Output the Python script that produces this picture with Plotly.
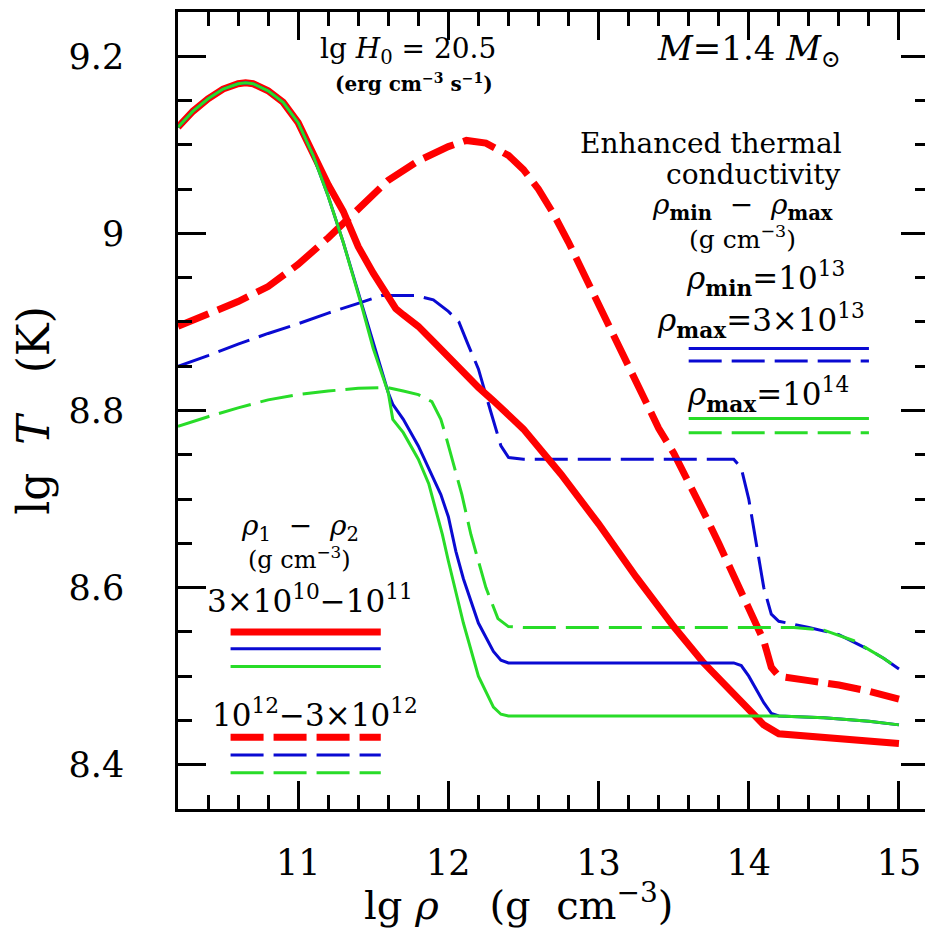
import plotly.graph_objects as go

# ---------------- data ----------------
red_solid_x = [10.2, 10.3, 10.4, 10.5, 10.6, 10.65, 10.7, 10.8, 10.9, 11.0, 11.1, 11.2, 11.3, 11.4, 11.5, 11.6,
               11.65, 11.7, 11.8, 11.9, 12.0, 12.1, 12.2, 12.3, 12.4, 12.5, 12.75, 13.0, 13.25, 13.5, 13.7, 13.9,
               14.1, 14.2, 14.4, 14.6, 14.8, 15.0]
red_solid_y = [9.12, 9.138, 9.152, 9.163, 9.169, 9.17, 9.169, 9.161, 9.148, 9.125, 9.09, 9.055, 9.025, 8.985, 8.955, 8.93,
               8.915, 8.908, 8.895, 8.878, 8.86, 8.842, 8.826, 8.811, 8.796, 8.779, 8.728, 8.672, 8.612, 8.556, 8.515, 8.48,
               8.445, 8.435, 8.432, 8.43, 8.427, 8.424]

blue_solid_x = [10.2, 10.3, 10.4, 10.5, 10.6, 10.65, 10.7, 10.8, 10.9, 11.0, 11.1, 11.2, 11.3, 11.42, 11.5, 11.54,
                11.6, 11.63, 11.7, 11.8, 11.87, 11.95, 12.0, 12.05, 12.1, 12.2, 12.3, 12.35, 12.4, 13.0, 13.5, 13.9,
                13.95, 14.0, 14.1, 14.15, 14.2, 14.5, 14.8, 15.0]
blue_solid_y = [9.12, 9.138, 9.152, 9.163, 9.169, 9.17, 9.169, 9.161, 9.148, 9.125, 9.088, 9.042, 8.99, 8.923, 8.878, 8.855,
                8.82, 8.807, 8.79, 8.76, 8.735, 8.705, 8.68, 8.641, 8.61, 8.56, 8.528, 8.518, 8.515, 8.515, 8.515, 8.515,
                8.512, 8.5, 8.47, 8.458, 8.455, 8.453, 8.449, 8.445]

green_solid_x = [10.2, 10.3, 10.4, 10.5, 10.6, 10.65, 10.7, 10.8, 10.9, 11.0, 11.1, 11.2, 11.3, 11.42, 11.5, 11.6,
                 11.63, 11.7, 11.8, 11.87, 11.96, 12.0, 12.1, 12.2, 12.3, 12.35, 12.4, 13.0, 13.5, 14.0, 14.2, 14.5,
                 14.8, 15.0]
green_solid_y = [9.12, 9.138, 9.152, 9.163, 9.169, 9.17, 9.169, 9.161, 9.148, 9.125, 9.088, 9.042, 8.99, 8.92, 8.87, 8.82,
                 8.79, 8.775, 8.745, 8.717, 8.66, 8.63, 8.56, 8.5, 8.465, 8.457, 8.455, 8.455, 8.455, 8.455, 8.455, 8.453,
                 8.449, 8.445]

red_dash_x = [10.2, 10.4, 10.6, 10.8, 11.0, 11.2, 11.4, 11.6, 11.8, 12.0, 12.12, 12.25, 12.4, 12.5, 12.6, 12.7, 12.8,
              12.9, 13.0, 13.1, 13.2, 13.3, 13.4, 13.5, 13.6, 13.7, 13.8, 13.9, 14.0, 14.1, 14.15, 14.2, 14.4,
              14.6, 14.8, 15.0]
red_dash_y = [8.895, 8.908, 8.923, 8.94, 8.965, 8.995, 9.028, 9.06, 9.082, 9.098, 9.105, 9.102, 9.088, 9.072, 9.05, 9.022,
              8.99, 8.955, 8.92, 8.885, 8.85, 8.815, 8.78, 8.752, 8.72, 8.685, 8.65, 8.613, 8.577, 8.54, 8.51, 8.5,
              8.495, 8.49, 8.483, 8.474]

blue_dash_x = [10.2, 10.4, 10.6, 10.8, 11.0, 11.2, 11.4, 11.56, 11.78, 11.9, 12.0, 12.07, 12.13, 12.2, 12.28, 12.35,
               12.4, 12.5, 13.9, 13.95, 14.0, 14.05, 14.1, 14.15, 14.2, 14.4, 14.6, 14.8, 14.9, 15.0]
blue_dash_y = [8.85, 8.862, 8.875, 8.887, 8.898, 8.91, 8.921, 8.93, 8.93, 8.925, 8.912, 8.9, 8.875, 8.847, 8.8, 8.76,
               8.747, 8.745, 8.745, 8.735, 8.70, 8.65, 8.6, 8.57, 8.562, 8.555, 8.547, 8.53, 8.52, 8.508]

green_dash_x = [10.2, 10.4, 10.6, 10.8, 11.0, 11.2, 11.4, 11.59, 11.7, 11.8, 11.89, 11.95, 11.98, 12.05, 12.09, 12.15,
                12.25, 12.33, 12.4, 12.5, 14.3, 14.5, 14.7, 14.8, 14.9, 15.0]
green_dash_y = [8.782, 8.793, 8.803, 8.812, 8.818, 8.822, 8.825, 8.826, 8.822, 8.818, 8.81, 8.79, 8.773, 8.73, 8.705, 8.66,
                8.6, 8.565, 8.556, 8.555, 8.555, 8.552, 8.54, 8.53, 8.52, 8.508]

x_tickvals = [11, 12, 13, 14, 15]
x_ticktext = ["11", "12", "13", "14", "15"]
y_tickvals = [8.4, 8.6, 8.8, 9.0, 9.2]
y_ticktext = ["8.4", "8.6", "8.8", "9", "9.2"]

# legend sample line levels (data coordinates)
left_key_x = [10.55, 11.55]
left_key_y = [8.55, 8.531, 8.511, 8.431, 8.411, 8.391]
right_key_x = [13.6, 14.8]
right_key_y = [8.87, 8.856, 8.791, 8.775]

RED = "rgb(255,0,0)"
BLUE = "rgb(10,10,210)"
GREEN = "rgb(40,220,40)"
FONT = "DejaVu Serif"
DASH = "33px,10px"

fig = go.Figure()

def add(x, y, color, width, dash=None):
    fig.add_trace(go.Scatter(x=x, y=y, mode="lines",
                             line=dict(color=color, width=width, dash=dash or "solid"),
                             showlegend=False, hoverinfo="skip"))

add(red_dash_x, red_dash_y, RED, 7, DASH)
add(blue_dash_x, blue_dash_y, BLUE, 3, DASH)
add(green_dash_x, green_dash_y, GREEN, 3, DASH)
add(red_solid_x, red_solid_y, RED, 7)
add(blue_solid_x, blue_solid_y, BLUE, 3)
add(green_solid_x, green_solid_y, GREEN, 3)

# legend sample lines
shapes = []
left_styles = [(RED, 7, "solid"), (BLUE, 3, "solid"), (GREEN, 3, "solid"),
               (RED, 7, DASH), (BLUE, 3, DASH), (GREEN, 3, DASH)]
for yv, (c, w, d) in zip(left_key_y, left_styles):
    shapes.append(dict(type="line", xref="x", yref="y", x0=left_key_x[0], x1=left_key_x[1],
                       y0=yv, y1=yv, line=dict(color=c, width=w, dash=d)))
right_styles = [(BLUE, 3, "solid"), (BLUE, 3, DASH), (GREEN, 3, "solid"), (GREEN, 3, DASH)]
for yv, (c, w, d) in zip(right_key_y, right_styles):
    shapes.append(dict(type="line", xref="x", yref="y", x0=right_key_x[0], x1=right_key_x[1],
                       y0=yv, y1=yv, line=dict(color=c, width=w, dash=d)))

def ann(x, y, text, size=26, xanchor="center"):
    return dict(x=x, y=y, xref="x", yref="y", text=text, showarrow=False,
                font=dict(family=FONT, size=size, color="black"), xanchor=xanchor, yanchor="middle")

annotations = [
    ann(11.73, 9.206, "lg <i>H</i><sub>0</sub> = 20.5", 28),
    ann(11.77, 9.17, "<b>(erg cm<sup>−3</sup> s<sup>−1</sup>)</b>", 20),
    ann(14.0, 9.206, "<i>M</i>=1.4 <i>M</i><sub>⊙</sub>", 34),
    ann(13.75, 9.101, "Enhanced thermal", 28),
    ann(14.03, 9.066, "conductivity", 28),
    ann(13.96, 9.03, "<i>ρ</i><sub><b>min</b></sub>  −  <i>ρ</i><sub><b>max</b></sub>", 28),
    ann(13.96, 8.995, "(g cm<sup>−3</sup>)", 25),
    ann(14.11, 8.949, "<i>ρ</i><sub><b>min</b></sub>=10<sup>13</sup>", 31),
    ann(14.08, 8.902, "<i>ρ</i><sub><b>max</b></sub>=3×10<sup>13</sup>", 31),
    ann(14.13, 8.818, "<i>ρ</i><sub><b>max</b></sub>=10<sup>14</sup>", 31),
    ann(11.01, 8.668, "<i>ρ</i><sub>1</sub>  −  <i>ρ</i><sub>2</sub>", 28),
    ann(11.01, 8.633, "(g cm<sup>−3</sup>)", 24),
    ann(11.08, 8.587, "3×10<sup>10</sup>−10<sup>11</sup>", 31),
    ann(11.11, 8.458, "10<sup>12</sup>−3×10<sup>12</sup>", 31),
    # x-axis title, placed slightly left of centre as in the original
    dict(x=0.454, y=-0.117, xref="paper", yref="paper", text="lg <i>ρ</i>    (g  cm<sup>−3</sup>)",
         showarrow=False, font=dict(family=FONT, size=40, color="black"), xanchor="center", yanchor="middle"),
]

axis_common = dict(showline=True, linewidth=2.5, linecolor="black", mirror="allticks",
                   ticks="inside", tickwidth=2.5, tickcolor="black", showgrid=False, zeroline=False,
                   tickfont=dict(family=FONT, size=35, color="black"))

fig.update_xaxes(range=[10.2, 15.2], tickvals=x_tickvals, ticktext=x_ticktext, ticklen=28,
                 minor=dict(dtick=0.2, tick0=10.2, ticklen=14, tickwidth=2.5, tickcolor="black", ticks="inside"),
                 ticklabelstandoff=21,
                 **axis_common)
fig.update_yaxes(range=[8.35, 9.25], tickvals=y_tickvals, ticktext=y_ticktext, ticklen=28,
                 minor=dict(dtick=0.05, tick0=8.35, ticklen=14, tickwidth=2.5, tickcolor="black", ticks="inside"),
                 ticklabelstandoff=44,
                 title=dict(text="lg  <i>T</i>   (K)", font=dict(family=FONT, size=44, color="black"), standoff=9),
                 **axis_common)

# the page body adds an 8px margin, so the figure is sized to fit the 933x931 window
fig.update_layout(width=925, height=923, margin=dict(l=170, r=1, t=1, b=122),
                  paper_bgcolor="white", plot_bgcolor="white",
                  shapes=shapes, annotations=annotations)

fig.write_html("out.html")
